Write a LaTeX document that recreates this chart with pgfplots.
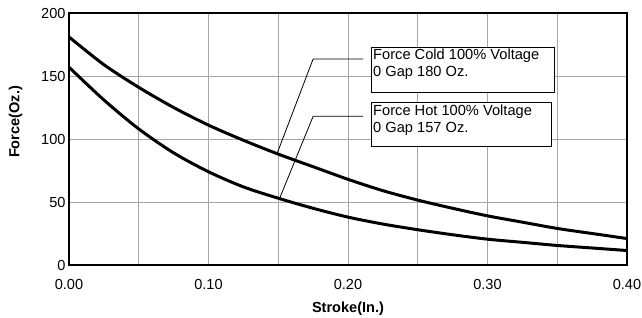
\documentclass[border=0pt]{standalone}
\usepackage{fontspec}
\setmainfont{Liberation Sans}
\usepackage{pgfplots}
\pgfplotsset{compat=1.18}
\begin{document}
\begin{tikzpicture}[x=1bp,y=1bp]
\begin{axis}[
  at={(0,0)}, anchor=south west,
  scale only axis, width=558bp, height=252bp,
  xmin=0, xmax=0.4, ymin=0, ymax=200,
  xtick={0,0.1,0.2,0.3,0.4},
  minor xtick={0.05,0.15,0.25,0.35},
  ytick={0,50,100,150,200},
  xticklabel style={/pgf/number format/fixed,/pgf/number format/fixed zerofill,/pgf/number format/precision=2, yshift=-11bp},
  scaled x ticks=false,
  /pgf/number format/assume math mode=true,
  tick label style={font=\fontsize{14.6}{16}\selectfont},
  label style={font=\fontsize{14.6}{16}\selectfont\bfseries},
  major tick length=0pt, minor tick length=0pt,
  xmajorgrids, xminorgrids, ymajorgrids,
  major grid style={gray!70, line width=0.8bp},
  minor grid style={gray!70, line width=0.8bp},
  axis line style={black, line width=1.2bp},
  xlabel={Stroke(In.)}, ylabel={Force(Oz.)},
  xlabel style={yshift=-5bp},
  ylabel style={yshift=12bp, xshift=17bp},
  clip=false,
]
\addplot[black, line width=3bp, smooth] coordinates {
(0,181) (0.025,159) (0.05,141) (0.075,125) (0.10,111) (0.125,99) (0.15,88) (0.175,78) (0.20,68) (0.225,59) (0.25,51.5) (0.275,45) (0.30,39) (0.325,34) (0.35,29) (0.375,25) (0.40,21)
};
\addplot[black, line width=3bp, smooth] coordinates {
(0,157) (0.025,131) (0.05,108) (0.075,89) (0.10,74) (0.125,62) (0.15,53) (0.175,45) (0.20,38) (0.225,32.5) (0.25,28) (0.275,24) (0.30,20.5) (0.325,18) (0.35,15.5) (0.375,13.5) (0.40,11.5)
};
\draw[black, line width=0.8bp] (axis cs:0.149,88) -- (axis cs:0.175,163.5) -- (axis cs:0.2108,163.5);
\draw[black, line width=0.8bp] (axis cs:0.151,53) -- (axis cs:0.175,118) -- (axis cs:0.2108,118);
\draw[black, line width=1bp, fill=white] (axis cs:0.2165,137) rectangle (axis cs:0.348,173);
\draw[black, line width=1bp, fill=white] (axis cs:0.2165,94) rectangle (axis cs:0.346,129);
\node[anchor=north west, align=left, inner sep=2bp, font=\fontsize{14.7}{17}\selectfont] at (axis cs:0.2165,173) {Force Cold 100\% Voltage\\0 Gap 180 Oz.};
\node[anchor=north west, align=left, inner sep=2bp, font=\fontsize{14.7}{17}\selectfont] at (axis cs:0.2165,129) {Force Hot 100\% Voltage\\0 Gap 157 Oz.};
\end{axis}
\pgfresetboundingbox
\path (-69bp,-53bp) rectangle (573bp,265bp);
\end{tikzpicture}
\end{document}
